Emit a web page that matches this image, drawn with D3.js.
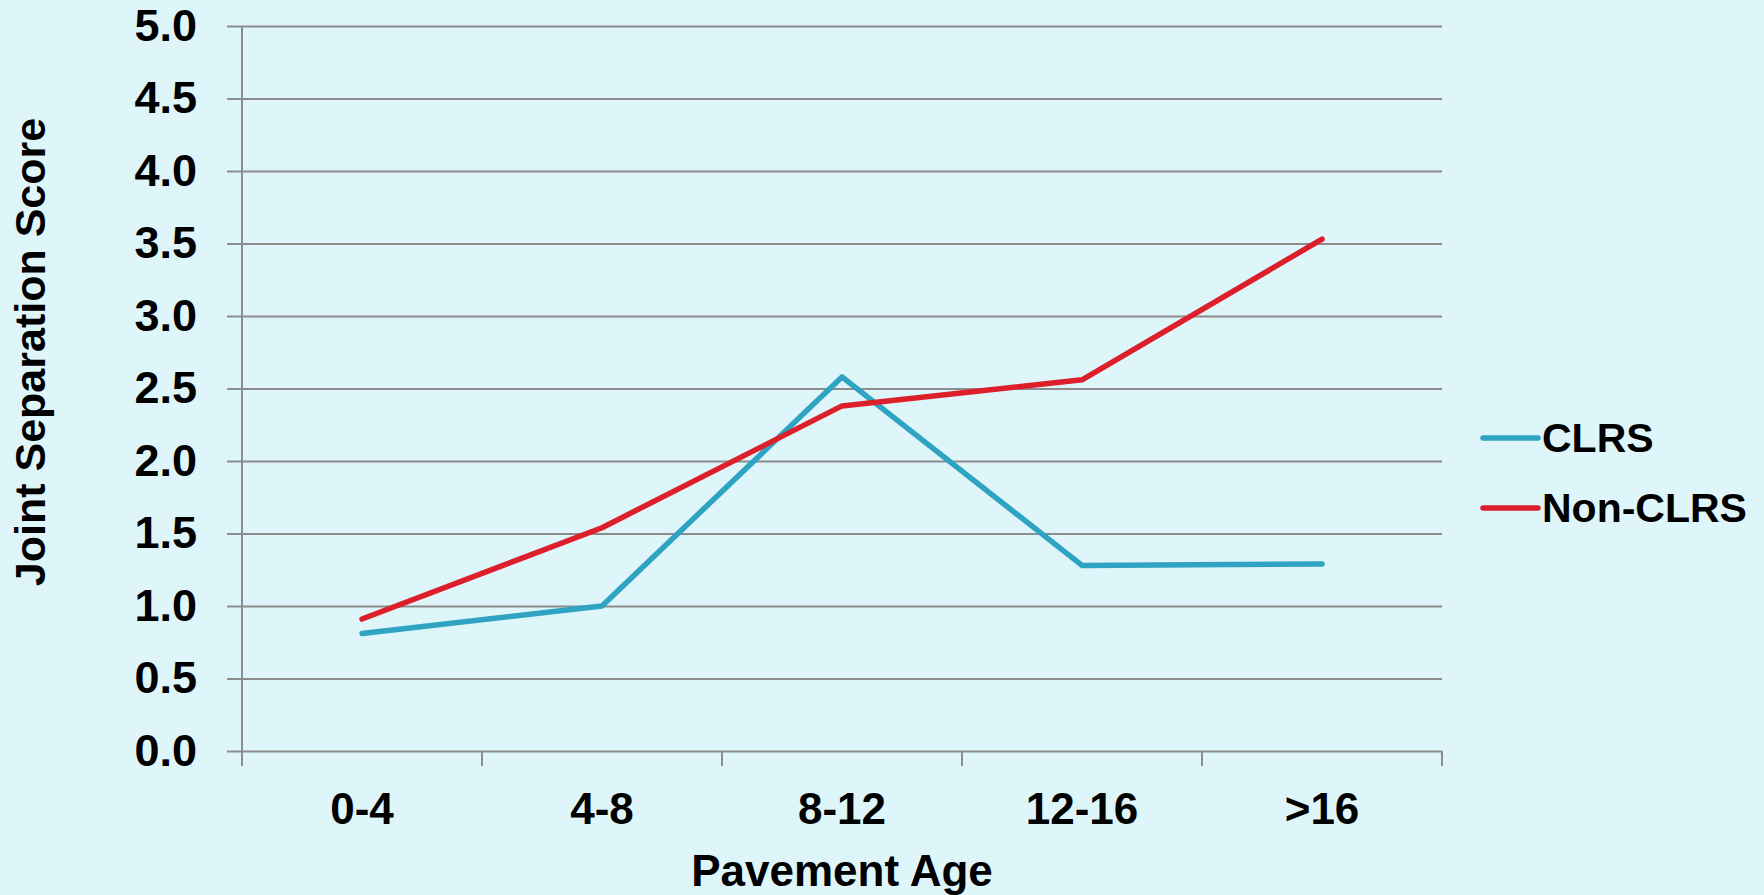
<!DOCTYPE html>
<html>
<head>
<meta charset="utf-8">
<script src="https://cdn.jsdelivr.net/npm/d3@7"></script>
<style>
  html, body { margin: 0; padding: 0; background: #def5fa; }
  svg { display: block; }
  text { font-family: "Liberation Sans", Arial, sans-serif; font-weight: bold; fill: #000; }
</style>
</head>
<body>
<svg id="chart" width="1764" height="895"></svg>
<script>
const categories = ["0-4", "4-8", "8-12", "12-16", ">16"];
const clrsValues = [0.81, 1.00, 2.58, 1.28, 1.29];
const nonClrsValues = [0.91, 1.54, 2.38, 2.56, 3.53];
const yTickValues = [0, 0.5, 1, 1.5, 2, 2.5, 3, 3.5, 4, 4.5, 5];
const seriesNames = ["CLRS", "Non-CLRS"];
const seriesColors = ["#2fa4c2", "#dc1f2a"];

const svg = d3.select("#chart");
const W = 1764, H = 895;
const m = { left: 242, right: 322, top: 26, bottom: 144 };
const iw = W - m.left - m.right;
const ih = H - m.top - m.bottom;

svg.append("rect").attr("width", W).attr("height", H).attr("fill", "#def5fa");

const x = d3.scaleBand().domain(categories).range([0, iw]).padding(0);
const y = d3.scaleLinear().domain([0, 5]).range([ih, 0]);

const g = svg.append("g").attr("transform", `translate(${m.left},${m.top})`);

const gridColor = "#8c8c8c";

// gridlines
const grid = g.append("g").call(d3.axisLeft(y).tickValues(yTickValues).tickSize(-iw).tickFormat(""));
grid.select(".domain").remove();
grid.selectAll("line").attr("stroke", gridColor).attr("stroke-width", 2);

// y axis labels + outer ticks
const yAx = g.append("g").call(
  d3.axisLeft(y).tickValues(yTickValues).tickSize(15).tickPadding(30).tickFormat(d3.format(".1f"))
);
yAx.select(".domain").remove();
yAx.selectAll("line").attr("stroke", gridColor).attr("stroke-width", 2);
yAx.selectAll("text").attr("font-size", 45).attr("font-family", "Liberation Sans, Arial, sans-serif").attr("font-weight", "bold").attr("fill", "#000");

// y axis vertical line
g.append("line")
  .attr("x1", 0).attr("x2", 0)
  .attr("y1", y(5)).attr("y2", y(0))
  .attr("stroke", gridColor).attr("stroke-width", 2);

// x axis labels
const xAx = g.append("g").attr("transform", `translate(0,${ih})`)
  .call(d3.axisBottom(x).tickSize(0).tickPadding(42));
xAx.select(".domain").remove();
xAx.selectAll("text").attr("font-size", 44).attr("font-family", "Liberation Sans, Arial, sans-serif").attr("font-weight", "bold").attr("fill", "#000");

// x boundary ticks
const bounds = categories.map(c => x(c)).concat([x.range()[1]]);
g.append("g").selectAll("line").data(bounds).join("line")
  .attr("x1", d => d).attr("x2", d => d)
  .attr("y1", ih).attr("y2", ih + 15)
  .attr("stroke", gridColor).attr("stroke-width", 2);

// lines
const line = d3.line()
  .x((d, i) => x(categories[i]) + x.bandwidth() / 2)
  .y(d => y(d));

[clrsValues, nonClrsValues].forEach((vals, k) => {
  g.append("path")
    .datum(vals)
    .attr("fill", "none")
    .attr("stroke", seriesColors[k])
    .attr("stroke-width", 5.5)
    .attr("stroke-linejoin", "round")
    .attr("stroke-linecap", "round")
    .attr("d", line);
});

// axis titles
svg.append("text")
  .attr("x", m.left + iw / 2).attr("y", 886)
  .attr("text-anchor", "middle")
  .attr("font-size", 44)
  .text("Pavement Age");

svg.append("text")
  .attr("transform", `translate(30,352) rotate(-90)`)
  .attr("text-anchor", "middle")
  .attr("dominant-baseline", "central")
  .attr("font-size", 43)
  .text("Joint Separation Score");

// legend
const legend = svg.append("g").attr("transform", "translate(1483,438)");
seriesNames.forEach((name, k) => {
  const row = legend.append("g").attr("transform", `translate(0,${k * 70})`);
  row.append("line")
    .attr("x1", 0).attr("x2", 55).attr("y1", 0).attr("y2", 0)
    .attr("stroke", seriesColors[k]).attr("stroke-width", 5.5).attr("stroke-linecap", "round");
  row.append("text")
    .attr("x", 59).attr("y", 0)
    .attr("dominant-baseline", "central")
    .attr("font-size", 41)
    .text(name);
});
</script>
</body>
</html>
